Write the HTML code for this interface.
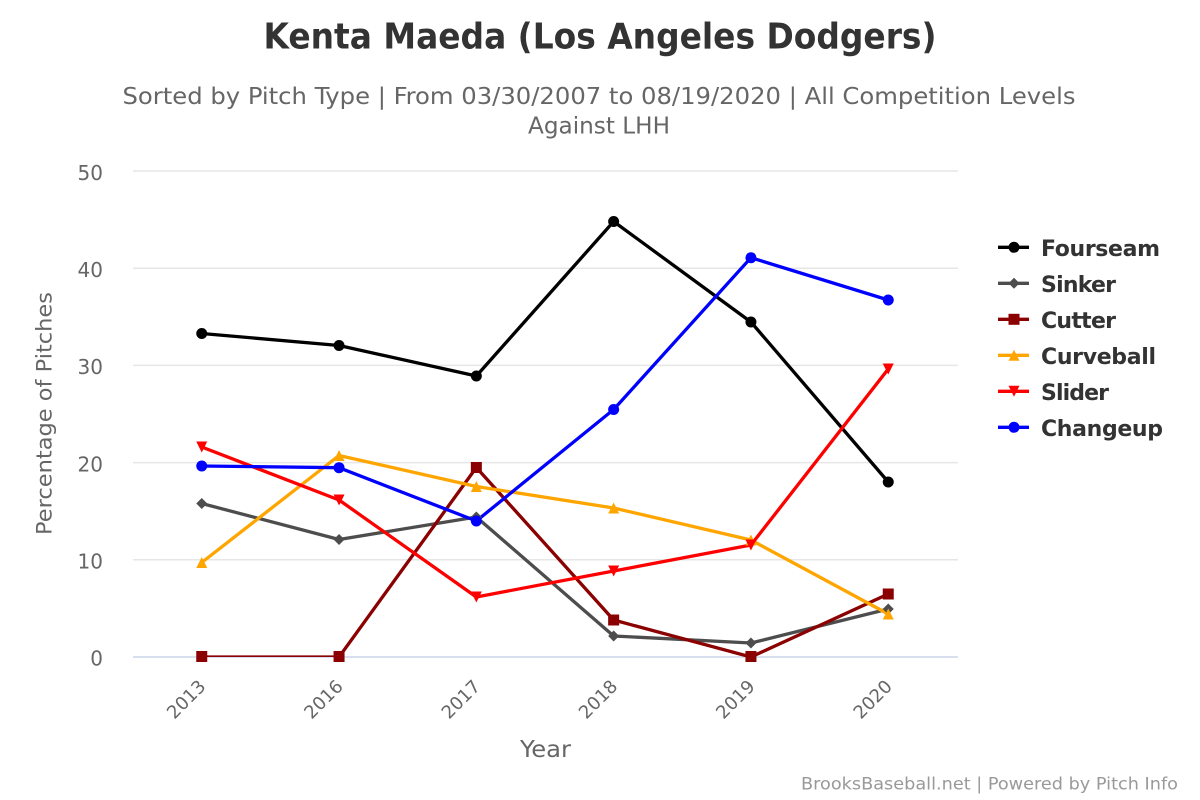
<!DOCTYPE html>
<html>
<head>
<meta charset="utf-8">
<style>
html,body{margin:0;padding:0;background:#fff;}
svg{display:block;}
</style>
</head>
<body>
<svg width="1200" height="800" viewBox="0 0 1200 800" xmlns="http://www.w3.org/2000/svg">
<defs>
<clipPath id="plot"><rect x="133" y="160" width="825" height="497"/></clipPath>
</defs>
<rect width="1200" height="800" fill="#fff"/>

<!-- Titles -->
<text x="600" y="48.5" text-anchor="middle" font-family="'DejaVu Sans Condensed','Liberation Sans Narrow','Liberation Sans',sans-serif" font-weight="bold" font-size="36" fill="#333" textLength="673" lengthAdjust="spacingAndGlyphs">Kenta Maeda (Los Angeles Dodgers)</text>
<text x="599" y="104" text-anchor="middle" font-family="'DejaVu Sans Condensed','Liberation Sans Narrow','Liberation Sans',sans-serif" font-size="23" fill="#666" textLength="953" lengthAdjust="spacingAndGlyphs">Sorted by Pitch Type | From 03/30/2007 to 08/19/2020 | All Competition Levels</text>
<text x="599" y="133.5" text-anchor="middle" font-family="'DejaVu Sans Condensed','Liberation Sans Narrow','Liberation Sans',sans-serif" font-size="23" fill="#666" textLength="142" lengthAdjust="spacingAndGlyphs">Against LHH</text>

<!-- Gridlines -->
<g stroke="#e6e6e6" stroke-width="1.5">
<line x1="133" y1="171" x2="958" y2="171"/>
<line x1="133" y1="268.2" x2="958" y2="268.2"/>
<line x1="133" y1="365.4" x2="958" y2="365.4"/>
<line x1="133" y1="462.6" x2="958" y2="462.6"/>
<line x1="133" y1="559.8" x2="958" y2="559.8"/>
</g>
<line x1="133" y1="657" x2="958" y2="657" stroke="#ccd6eb" stroke-width="1.5"/>

<!-- Y labels -->
<g font-family="'DejaVu Sans','Liberation Sans',sans-serif" font-size="20" fill="#666" text-anchor="end">
<text x="103" y="180">50</text>
<text x="103" y="277">40</text>
<text x="103" y="374">30</text>
<text x="103" y="471.5">20</text>
<text x="103" y="568.5">10</text>
<text x="103" y="665.5">0</text>
</g>
<text transform="translate(51.5,413.5) rotate(-90)" text-anchor="middle" font-family="'DejaVu Sans','Liberation Sans',sans-serif" font-size="21" fill="#666" textLength="243" lengthAdjust="spacingAndGlyphs">Percentage of Pitches</text>

<!-- X labels -->
<g font-family="'DejaVu Sans','Liberation Sans',sans-serif" font-size="18" fill="#666" text-anchor="end">
<text transform="translate(206.75,687.5) rotate(-45)">2013</text>
<text transform="translate(344.05,687.5) rotate(-45)">2016</text>
<text transform="translate(481.35,687.5) rotate(-45)">2017</text>
<text transform="translate(618.65,687.5) rotate(-45)">2018</text>
<text transform="translate(755.95,687.5) rotate(-45)">2019</text>
<text transform="translate(893.25,687.5) rotate(-45)">2020</text>
</g>
<text x="545.5" y="757" text-anchor="middle" font-family="'DejaVu Sans Condensed','Liberation Sans Narrow','Liberation Sans',sans-serif" font-size="23" fill="#666" textLength="51" lengthAdjust="spacingAndGlyphs">Year</text>

<!-- Series lines -->
<g clip-path="url(#plot)" fill="none" stroke-width="3.3" stroke-linejoin="round" stroke-linecap="round">
<polyline stroke="#000000" points="201.75,333.5 339.05,345.5 476.35,376 613.65,221.5 750.95,322 888.25,482"/>
<polyline stroke="#4d4d4d" points="201.75,503.5 339.05,539.5 476.35,517 613.65,636 750.95,643 888.25,609"/>
<polyline stroke="#8b0000" points="201.75,657 339.05,657 476.35,467.5 613.65,620 750.95,657 888.25,594"/>
<polyline stroke="#ffa500" points="201.75,562.5 339.05,455.5 476.35,486.5 613.65,508 750.95,540 888.25,614"/>
<polyline stroke="#ff0000" points="201.75,447 339.05,500 476.35,597 613.65,571 750.95,545 888.25,369"/>
<polyline stroke="#0000ff" points="201.75,466 339.05,467.7 476.35,521 613.65,409.5 750.95,257.7 888.25,300"/>
</g>

<!-- Markers: Fourseam circles -->
<g fill="#000000">
<circle cx="201.75" cy="333.5" r="5.5"/><circle cx="339.05" cy="345.5" r="5.5"/><circle cx="476.35" cy="376" r="5.5"/>
<circle cx="613.65" cy="221.5" r="5.5"/><circle cx="750.95" cy="322" r="5.5"/><circle cx="888.25" cy="482" r="5.5"/>
</g>
<!-- Sinker diamonds -->
<g fill="#4d4d4d">
<path d="M201.75,498 L207.25,503.5 L201.75,509 L196.25,503.5Z"/>
<path d="M339.05,534 L344.55,539.5 L339.05,545 L333.55,539.5Z"/>
<path d="M476.35,511.5 L481.85,517 L476.35,522.5 L470.85,517Z"/>
<path d="M613.65,630.5 L619.15,636 L613.65,641.5 L608.15,636Z"/>
<path d="M750.95,637.5 L756.45,643 L750.95,648.5 L745.45,643Z"/>
<path d="M888.25,603.5 L893.75,609 L888.25,614.5 L882.75,609Z"/>
</g>
<!-- Cutter squares -->
<g fill="#8b0000">
<rect x="196.25" y="651" width="11" height="11"/>
<rect x="333.55" y="651" width="11" height="11"/>
<rect x="470.85" y="462" width="11" height="11"/>
<rect x="608.15" y="614.5" width="11" height="11"/>
<rect x="745.45" y="651" width="11" height="11"/>
<rect x="882.75" y="588.5" width="11" height="11"/>
</g>
<!-- Curveball triangles -->
<g fill="#ffa500">
<path d="M201.75,557 L207.25,568 L196.25,568Z"/>
<path d="M339.05,450 L344.55,461 L333.55,461Z"/>
<path d="M476.35,481 L481.85,492 L470.85,492Z"/>
<path d="M613.65,502.5 L619.15,513.5 L608.15,513.5Z"/>
<path d="M750.95,534.5 L756.45,545.5 L745.45,545.5Z"/>
<path d="M888.25,608.5 L893.75,619.5 L882.75,619.5Z"/>
</g>
<!-- Slider triangle-down -->
<g fill="#ff0000">
<path d="M196.25,441.5 L207.25,441.5 L201.75,452.5Z"/>
<path d="M333.55,494.5 L344.55,494.5 L339.05,505.5Z"/>
<path d="M470.85,591.5 L481.85,591.5 L476.35,602.5Z"/>
<path d="M608.15,565.5 L619.15,565.5 L613.65,576.5Z"/>
<path d="M745.45,539.5 L756.45,539.5 L750.95,550.5Z"/>
<path d="M882.75,363.5 L893.75,363.5 L888.25,374.5Z"/>
</g>
<!-- Changeup circles -->
<g fill="#0000ff">
<circle cx="201.75" cy="466" r="5.5"/><circle cx="339.05" cy="467.7" r="5.5"/><circle cx="476.35" cy="521" r="5.5"/>
<circle cx="613.65" cy="409.5" r="5.5"/><circle cx="750.95" cy="257.7" r="5.5"/><circle cx="888.25" cy="300" r="5.5"/>
</g>

<!-- Legend -->
<g stroke-width="3.3">
<line x1="998" y1="247.3" x2="1029" y2="247.3" stroke="#000000"/>
<line x1="998" y1="283.3" x2="1029" y2="283.3" stroke="#4d4d4d"/>
<line x1="998" y1="319.3" x2="1029" y2="319.3" stroke="#8b0000"/>
<line x1="998" y1="355.3" x2="1029" y2="355.3" stroke="#ffa500"/>
<line x1="998" y1="391.3" x2="1029" y2="391.3" stroke="#ff0000"/>
<line x1="998" y1="427.3" x2="1029" y2="427.3" stroke="#0000ff"/>
</g>
<circle cx="1014" cy="247.3" r="5.5" fill="#000000"/>
<path d="M1014,277.8 L1019.5,283.3 L1014,288.8 L1008.5,283.3Z" fill="#4d4d4d"/>
<rect x="1008.5" y="313.8" width="11" height="11" fill="#8b0000"/>
<path d="M1014,349.8 L1019.5,360.8 L1008.5,360.8Z" fill="#ffa500"/>
<path d="M1008.5,385.8 L1019.5,385.8 L1014,396.8Z" fill="#ff0000"/>
<circle cx="1014" cy="427.3" r="5.5" fill="#0000ff"/>
<g font-family="'DejaVu Sans','Liberation Sans',sans-serif" font-weight="bold" font-size="22" fill="#333" lengthAdjust="spacingAndGlyphs">
<text x="1041" y="256" textLength="119">Fourseam</text>
<text x="1041" y="292" textLength="75">Sinker</text>
<text x="1041" y="328" textLength="75">Cutter</text>
<text x="1041" y="364" textLength="115">Curveball</text>
<text x="1041" y="400" textLength="68">Slider</text>
<text x="1041" y="436" textLength="122">Changeup</text>
</g>

<!-- Credits -->
<text x="1178" y="789.5" text-anchor="end" font-family="'DejaVu Sans','Liberation Sans',sans-serif" font-size="17" fill="#999" textLength="377" lengthAdjust="spacingAndGlyphs">BrooksBaseball.net | Powered by Pitch Info</text>
</svg>
</body>
</html>
